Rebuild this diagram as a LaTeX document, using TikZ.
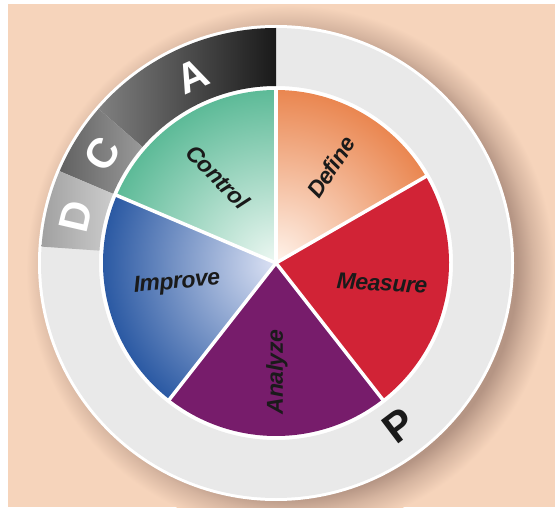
\documentclass[tikz,border=0pt]{standalone}
\usepackage{fontspec}
\setmainfont{Liberation Sans}
\newfontfamily\labelfont[LetterSpace=-2]{Liberation Sans}
\usetikzlibrary{calc}

\definecolor{bgpeach}{HTML}{F6D4BB}
\definecolor{shadowbrown}{HTML}{B59584}
\definecolor{ringgray}{HTML}{E9E9E9}
\definecolor{defineorange}{HTML}{E9824A}
\definecolor{definelight}{HTML}{FFF4EC}
\definecolor{measurered}{HTML}{D12336}
\definecolor{analyzepurple}{HTML}{771C6B}
\definecolor{improveblue}{HTML}{2454A0}
\definecolor{improvelight}{HTML}{DCE2F4}
\definecolor{controlgreen}{HTML}{57B894}
\definecolor{controllight}{HTML}{EEF8F3}
\definecolor{labelblack}{HTML}{1A1A1A}

\pgfdeclareradialshading{ringshadow}{\pgfpoint{0bp}{0bp}}{color(0bp)=(shadowbrown); color(21.5bp)=(shadowbrown); color(23bp)=(shadowbrown!50!bgpeach); color(25bp)=(bgpeach); color(50bp)=(bgpeach)}

\tikzset{
  slicelabel/.style={font=\labelfont\bfseries\itshape\fontsize{23}{23}\selectfont, text=labelblack, inner sep=0pt},
  ringletter/.style={font=\bfseries\fontsize{42}{42}\selectfont, inner sep=0pt},
  sep/.style={white, line width=3.5pt}
}

\begin{document}
\begin{tikzpicture}[x=1pt, y=1pt]
  \useasboundingbox (0,0) rectangle (555,507);
  % Background and shadow
  \fill[white] (0,0) rectangle (555,507);
  \fill[bgpeach] (8,0) rectangle (555,503);
  \begin{scope}
    \clip (8,0) rectangle (555,503);
    \shade[shading=ringshadow] (290,238) circle (264);
  \end{scope}
  \coordinate (c) at (276,244);
  % Outer ring
  \fill[white] (c) circle (238);
  \fill[ringgray, even odd rule] (c) circle (235) (c) circle (177);
  % A C D sectors
  \shade[left color=black!50, right color=black!90]
    ([shift={(c)}]90:235) arc[start angle=90, end angle=139, radius=235]
    -- ([shift={(c)}]139:177) arc[start angle=139, end angle=90, radius=177] -- cycle;
  \shade[left color=black!62, right color=black!40]
    ([shift={(c)}]139:235) arc[start angle=139, end angle=157, radius=235]
    -- ([shift={(c)}]157:177) arc[start angle=157, end angle=139, radius=177] -- cycle;
  \shade[left color=black!37, right color=black!20]
    ([shift={(c)}]157:235) arc[start angle=157, end angle=176, radius=235]
    -- ([shift={(c)}]176:177) arc[start angle=176, end angle=157, radius=177] -- cycle;
  % Define
  \begin{scope}
    \clip (c) -- ([shift={(c)}]90:173) arc[start angle=90, end angle=30, radius=173] -- cycle;
    \shade[inner color=definelight, outer color=defineorange] (c) circle (180);
  \end{scope}
  % Measure
  \fill[measurered] (c) -- ([shift={(c)}]30:173) arc[start angle=30, end angle=-52, radius=173] -- cycle;
  % Analyze
  \fill[analyzepurple] (c) -- ([shift={(c)}]-52:173) arc[start angle=-52, end angle=-128, radius=173] -- cycle;
  % Improve
  \begin{scope}
    \clip (c) -- ([shift={(c)}]-128:173) arc[start angle=-128, end angle=-203, radius=173] -- cycle;
    \shade[inner color=improvelight, outer color=improveblue] (c) circle (180);
  \end{scope}
  % Control
  \begin{scope}
    \clip (c) -- ([shift={(c)}]157:173) arc[start angle=157, end angle=90, radius=173] -- cycle;
    \shade[inner color=controllight, outer color=controlgreen] (c) circle (180);
  \end{scope}
  % Separators
  \draw[sep] (c) -- ([shift={(c)}]90:175);
  \draw[sep] (c) -- ([shift={(c)}]30:175);
  \draw[sep] (c) -- ([shift={(c)}]-52:175);
  \draw[sep] (c) -- ([shift={(c)}]-128:175);
  \draw[sep] (c) -- ([shift={(c)}]157:175);
  % Slice labels
  \node[slicelabel, rotate=57] (define) at (331,340) {Define};
  \node[slicelabel, rotate=-3] (measure) at (382,224) {Measure};
  \node[slicelabel, rotate=90] (analyze) at (277,135) {Analyze};
  \node[slicelabel, rotate=5] (improve) at (177,224) {Improve};
  \node[slicelabel, rotate=-46] (control) at (218,330) {Control};
  % Ring letters
  \node[ringletter, white, rotate=24] (lettera) at ([shift={(c)}]114:205) {A};
  \node[ringletter, white, rotate=58] (letterc) at ([shift={(c)}]148:205) {C};
  \node[ringletter, white, rotate=77] (letterd) at ([shift={(c)}]167:205) {D};
  \node[ringletter, labelblack, rotate=37] (letterp) at ([shift={(c)}]-53:204) {P};
\end{tikzpicture}
\end{document}
